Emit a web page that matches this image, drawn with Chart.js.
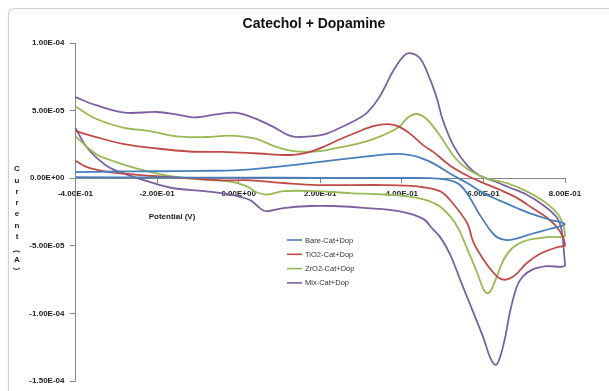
<!DOCTYPE html>
<html>
<head>
<meta charset="utf-8">
<script src="https://cdn.jsdelivr.net/npm/chart.js@4.4.1/dist/chart.umd.min.js"></script>
<style>
  html, body { margin: 0; padding: 0; background: #fff; }
  #wrap { width: 609px; height: 391px; position: relative; }
</style>
</head>
<body>
<div id="wrap"><canvas id="cv" width="609" height="391"></canvas></div>
<script>
// Cyclic voltammograms, catechol + dopamine on four electrodes.
// Potentials in V; currents in units of 1e-5 A, listed in sweep order.
const CURRENT_UNIT = 1e-5;

const seriesNames = ['Bare-Cat+Dop', 'TiO2-Cat+Dop', 'ZrO2-Cat+Dop', 'Mix-Cat+Dop'];
const seriesColors = ['#4a7ebb', '#be4b48', '#98b954', '#7d60a0'];

const bareV = [-0.4, -0.3, -0.2, -0.1, 0.0, 0.085, 0.168, 0.25, 0.315, 0.37, 0.395, 0.437, 0.477, 0.518, 0.56, 0.6, 0.64, 0.682, 0.72, 0.762, 0.8,
               0.762, 0.72, 0.682, 0.657, 0.633, 0.617, 0.59, 0.567, 0.543, 0.518, 0.477, 0.4, 0.2, 0.0, -0.2, -0.4];
const bareI = [0.45, 0.5, 0.52, 0.55, 0.6, 0.82, 1.1, 1.4, 1.62, 1.78, 1.8, 1.6, 1.1, 0.35, -0.35, -1.1, -1.65, -2.2, -2.65, -3.05, -3.4,
               -3.75, -4.1, -4.45, -4.57, -4.35, -3.85, -2.65, -1.45, -0.5, -0.15, 0.0, 0.02, 0.03, 0.05, 0.06, 0.08];

const tio2V = [-0.4, -0.35, -0.284, -0.2, -0.12, -0.04, 0.04, 0.127, 0.168, 0.21, 0.25, 0.29, 0.33, 0.365, 0.39, 0.42, 0.452, 0.477, 0.518, 0.56, 0.6, 0.64, 0.682, 0.72, 0.755, 0.78, 0.795, 0.8,
               0.78, 0.738, 0.705, 0.682, 0.665, 0.652, 0.64, 0.625, 0.6, 0.575, 0.56, 0.518, 0.493, 0.437, 0.355, 0.192, 0.11, 0.03, -0.04, -0.12, -0.2, -0.284, -0.325, -0.37, -0.4];
const tio2I = [3.5, 3.05, 2.55, 2.2, 1.98, 1.95, 1.85, 1.72, 1.9, 2.35, 2.9, 3.4, 3.85, 4.0, 3.85, 3.3, 2.45, 1.95, 0.95, 0.2, -0.35, -0.85, -1.45, -2.2, -2.9, -3.6, -4.35, -4.95,
               -5.1, -5.6, -6.3, -7.05, -7.4, -7.5, -7.4, -7.0, -6.0, -4.7, -3.3, -1.6, -0.95, -0.6, -0.5, -0.5, -0.35, -0.15, -0.15, 0.0, 0.15, 0.35, 0.5, 0.8, 1.3];

const zro2V = [-0.4, -0.35, -0.284, -0.22, -0.153, -0.08, -0.025, 0.005, 0.045, 0.085, 0.127, 0.168, 0.21, 0.25, 0.29, 0.33, 0.37, 0.395, 0.415, 0.437, 0.46, 0.49, 0.527, 0.56, 0.608, 0.657, 0.705, 0.745, 0.78, 0.795, 0.8,
               0.755, 0.705, 0.673, 0.65, 0.633, 0.62, 0.61, 0.6, 0.585, 0.56, 0.54, 0.518, 0.486, 0.437, 0.355, 0.273, 0.192, 0.11, 0.07, 0.045, 0.02, -0.02, -0.085, -0.166, -0.247, -0.3, -0.35, -0.4];
const zro2I = [5.3, 4.4, 3.75, 3.5, 3.1, 3.05, 3.15, 3.1, 2.9, 2.4, 2.05, 1.95, 2.05, 2.3, 2.55, 2.9, 3.4, 3.85, 4.5, 4.75, 4.4, 3.3, 1.65, 0.7, 0.0, -0.35, -0.95, -1.65, -2.55, -3.4, -4.25,
               -4.35, -4.6, -5.1, -6.0, -7.25, -8.2, -8.5, -8.2, -7.0, -5.2, -3.8, -2.8, -1.95, -1.45, -1.2, -1.1, -0.95, -0.95, -1.2, -1.05, -0.6, -0.25, -0.1, 0.15, 0.7, 1.2, 1.8, 3.1];

const mixV = [-0.4, -0.35, -0.28, -0.2, -0.15, -0.105, -0.06, -0.01, 0.025, 0.05, 0.085, 0.125, 0.15, 0.21, 0.25, 0.29, 0.315, 0.345, 0.38, 0.405, 0.42, 0.445, 0.47, 0.487, 0.5, 0.527, 0.56, 0.59, 0.625, 0.665, 0.705, 0.745, 0.78, 0.792, 0.797, 0.8,
              0.755, 0.72, 0.697, 0.682, 0.665, 0.653, 0.64, 0.63, 0.617, 0.6, 0.575, 0.543, 0.518, 0.494, 0.477, 0.452, 0.395, 0.315, 0.232, 0.175, 0.11, 0.078, 0.062, 0.046, 0.03, 0.013, -0.02, -0.085, -0.166, -0.247, -0.29, -0.325, -0.37, -0.4];
const mixI = [6.0, 5.4, 4.85, 4.9, 4.7, 4.5, 4.7, 4.85, 4.6, 4.3, 3.8, 3.15, 3.05, 3.25, 3.75, 4.35, 4.85, 6.0, 8.0, 9.05, 9.25, 8.85, 7.25, 5.8, 4.35, 2.4, 0.95, 0.2, -0.2, -0.7, -1.2, -1.95, -2.9, -3.85, -5.3, -6.45,
              -6.5, -6.75, -7.25, -8.0, -9.9, -11.8, -13.3, -13.8, -13.3, -11.8, -9.9, -7.5, -5.6, -4.35, -3.8, -3.0, -2.45, -2.2, -2.05, -2.05, -2.2, -2.4, -2.4, -2.05, -1.65, -1.45, -1.2, -0.95, -0.7, 0.0, 0.45, 0.95, 2.2, 3.7];

// Axis ranges and tick steps
const xMin = -0.4, xMax = 0.8, xStep = 0.2;
const yMin = -1.5e-4, yMax = 1e-4, yStep = 5e-5;

const chartTitle = 'Catechol + Dopamine';
const xTitle = 'Potential (V)';
const yTitle = 'Current (A)';

// 1.00E-04 style number format
function sci(v) {
  if (Math.abs(v) < 1e-12) v = 0;
  const parts = Number(v).toExponential(2).split('e');
  const n = parseInt(parts[1], 10);
  return parts[0] + 'E' + (n < 0 ? '-' : '+') + String(Math.abs(n)).padStart(2, '0');
}

const seriesV = [bareV, tio2V, zro2V, mixV];
const seriesI = [bareI, tio2I, zro2I, mixI];

const datasets = seriesNames.map((name, k) => ({
  label: name,
  data: seriesV[k].map((v, i) => ({ x: v, y: seriesI[k][i] * CURRENT_UNIT })),
  borderColor: seriesColors[k],
  backgroundColor: seriesColors[k],
  showLine: true,
  pointRadius: 0,
  borderWidth: 1.8,
  tension: 0.35,
  clip: 6
}));

const FONT = '"Liberation Sans", Arial, sans-serif';
const AXIS_GRAY = '#868686';

const decor = {
  id: 'decor',
  beforeDraw(chart) {
    const c = chart.ctx;
    c.save();
    // outer chart frame
    c.strokeStyle = '#cfcfcf';
    c.lineWidth = 1.2;
    c.beginPath();
    c.roundRect(8.5, 8.5, 640, 420, 6);
    c.stroke();
    c.restore();
  },
  afterDraw(chart) {
    const c = chart.ctx;
    c.save();
    // title
    c.fillStyle = '#111';
    c.font = 'bold 14px ' + FONT;
    c.textAlign = 'center';
    c.textBaseline = 'middle';
    c.fillText(chartTitle, 314, 24);

    // x axis title
    c.font = 'bold 8px ' + FONT;
    c.fillStyle = '#222';
    c.fillText(xTitle, 172, 217);

    // y axis title, stacked characters
    let y = 169 - 11.3 / 2;
    for (const ch of yTitle) {
      if (ch === ' ') { y += 6; continue; }
      if (ch === '(' || ch === ')') {
        const h = 6;
        c.save();
        c.translate(17, y + h / 2);
        c.rotate(Math.PI / 2);
        c.fillText(ch, 0, 0);
        c.restore();
        y += h;
      } else {
        const h = 11.3;
        c.fillText(ch, 17, y + h / 2);
        y += h;
      }
    }

    // legend
    c.font = '7.5px ' + FONT;
    c.textAlign = 'left';
    c.fillStyle = '#333';
    chart.data.datasets.forEach((ds, k) => {
      const ly = 240 + k * 14.3;
      c.strokeStyle = ds.borderColor;
      c.lineWidth = 1.6;
      c.beginPath();
      c.moveTo(287, ly);
      c.lineTo(302, ly);
      c.stroke();
      c.fillText(ds.label, 305, ly + 0.5);
    });
    c.restore();
  }
};

const tickFont = { family: FONT, size: 8, weight: 'bold' };

new Chart(document.getElementById('cv'), {
  type: 'scatter',
  data: { datasets },
  options: {
    responsive: false,
    animation: false,
    events: [],
    layout: { padding: { top: 43, left: 10, right: 44, bottom: 4 } },
    plugins: {
      legend: { display: false },
      tooltip: { enabled: false },
      title: { display: false }
    },
    scales: {
      x: {
        type: 'linear',
        position: { y: 0 },
        min: xMin,
        max: xMax,
        ticks: {
          stepSize: xStep,
          callback: v => sci(v),
          font: tickFont,
          color: '#222',
          padding: 7,
          maxRotation: 0,
          autoSkip: false
        },
        grid: { drawOnChartArea: false, tickLength: 4, color: AXIS_GRAY },
        border: { color: AXIS_GRAY, width: 1 }
      },
      y: {
        type: 'linear',
        min: yMin,
        max: yMax,
        ticks: {
          stepSize: yStep,
          callback: v => sci(v),
          font: tickFont,
          color: '#222',
          padding: 5
        },
        grid: { drawOnChartArea: false, tickLength: 6, color: AXIS_GRAY },
        border: { color: AXIS_GRAY, width: 1 },
        afterFit(s) { s.width = 65.5; }
      }
    }
  },
  plugins: [decor]
});
</script>
</body>
</html>
